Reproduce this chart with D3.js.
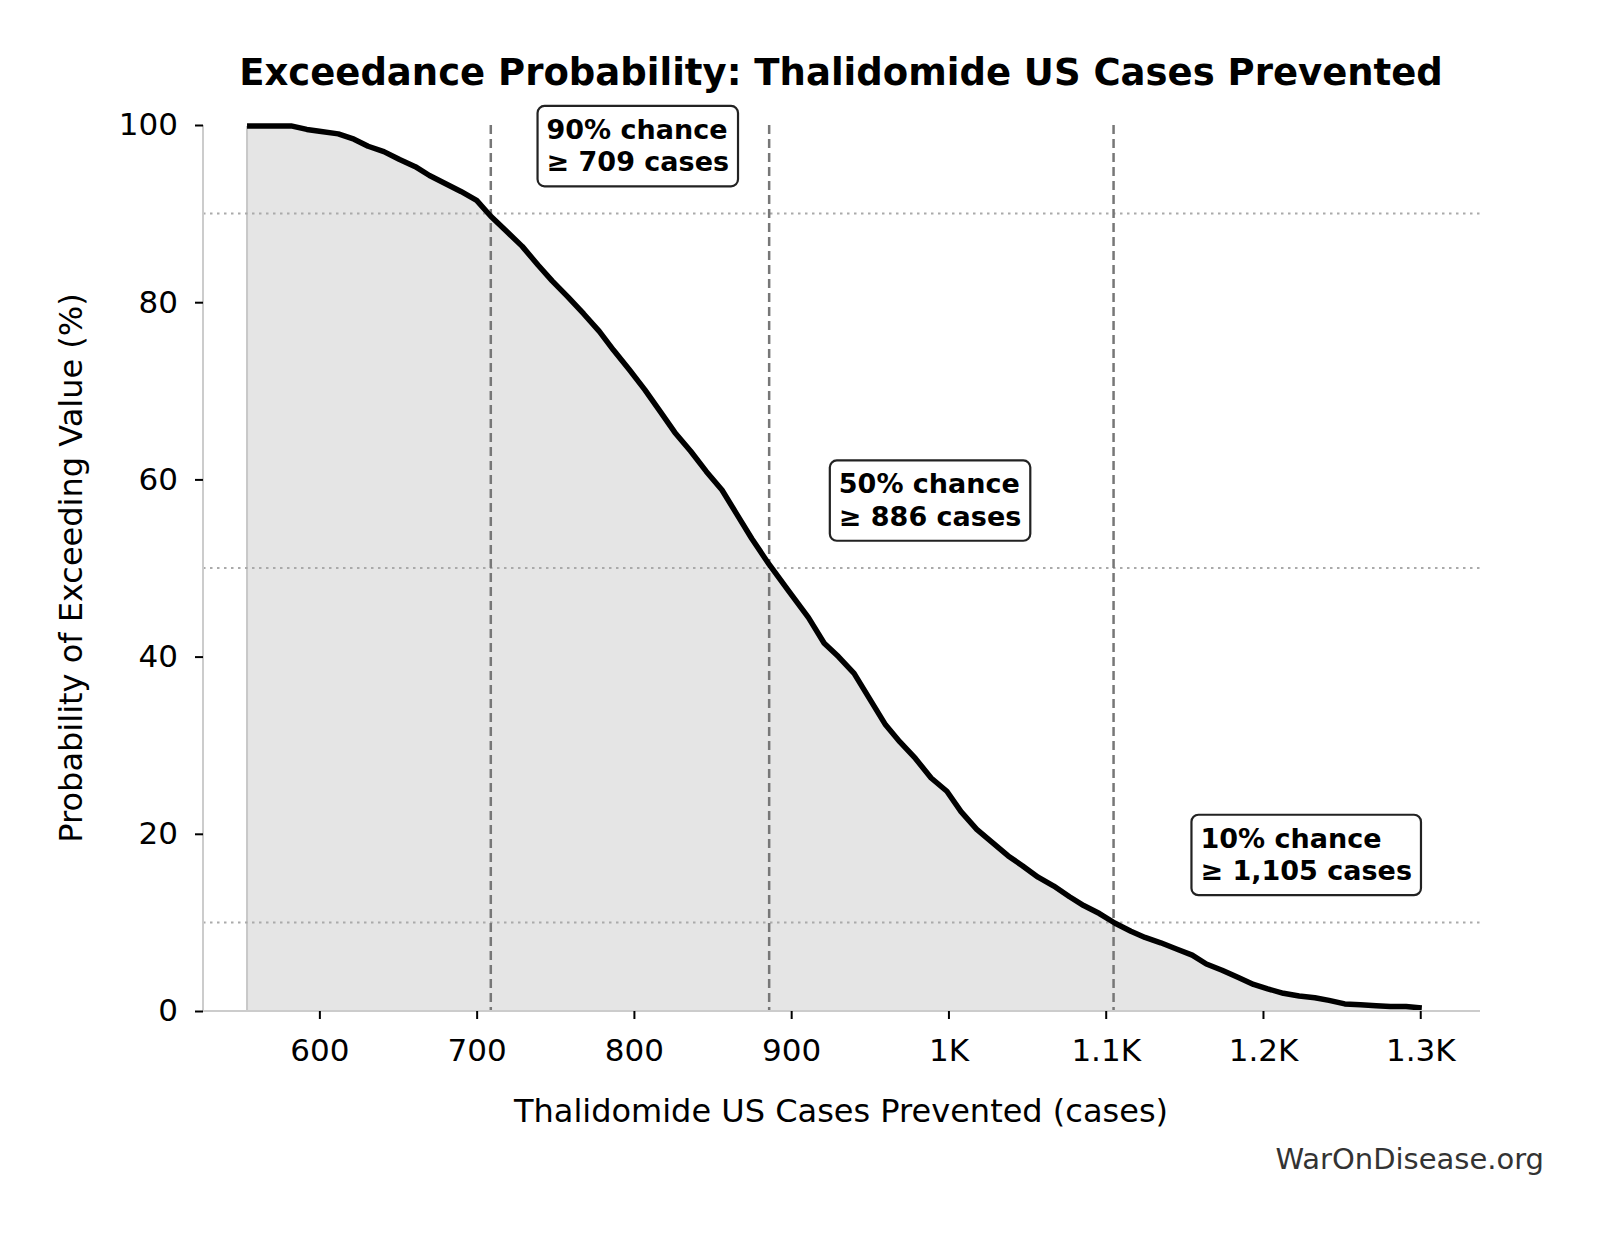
<!DOCTYPE html>
<html>
<head>
<meta charset="utf-8">
<script src="https://cdn.jsdelivr.net/npm/d3@7"></script>
<style>
  body { margin: 0; background: #fff; }
  text { font-family: "DejaVu Sans", sans-serif; }
</style>
</head>
<body>
<script>
// exceedance curve
const cases = [554, 582, 592, 600, 612, 622, 631, 641, 651, 661, 670, 680, 690, 700, 709, 719, 729, 739, 748, 758, 768, 778, 787, 797, 807, 817, 826, 836, 846, 856, 865, 875, 886, 898, 911, 921, 930, 940, 950, 960, 969, 979, 989, 999, 1008, 1018, 1028, 1038, 1047, 1057, 1067, 1077, 1086, 1096, 1106, 1116, 1125, 1135, 1145, 1155, 1164, 1174, 1184, 1194, 1203, 1213, 1223, 1233, 1242, 1252, 1262, 1272, 1281, 1291, 1301];
const exceedPct = [99.9, 99.9, 99.5, 99.3, 99.0, 98.4, 97.6, 97.0, 96.1, 95.3, 94.3, 93.4, 92.5, 91.5, 89.7, 88.0, 86.3, 84.2, 82.4, 80.6, 78.7, 76.7, 74.6, 72.4, 70.1, 67.6, 65.3, 63.2, 60.9, 58.8, 56.2, 53.3, 50.4, 47.5, 44.4, 41.5, 40.0, 38.1, 35.2, 32.3, 30.4, 28.5, 26.3, 24.8, 22.5, 20.5, 19.0, 17.5, 16.4, 15.1, 14.1, 12.9, 11.9, 11.0, 9.9, 9.0, 8.3, 7.7, 7.0, 6.3, 5.3, 4.6, 3.8, 3.0, 2.5, 2.0, 1.7, 1.5, 1.2, 0.8, 0.7, 0.6, 0.5, 0.5, 0.35];

const pctLevels = [90, 50, 10];
const pctValues = [709, 886, 1105];
const pctLabels = ["≥ 709 cases", "≥ 886 cases", "≥ 1,105 cases"];

const xTicks = [600, 700, 800, 900, 1000, 1100, 1200, 1300];
const xTickLabels = ["600", "700", "800", "900", "1K", "1.1K", "1.2K", "1.3K"];
const yTicks = [0, 20, 40, 60, 80, 100];

const W = 1603, H = 1233;
const plotL = 203, plotR = 1480, plotT = 125, plotB = 1011;

const svg = d3.select("body").append("svg")
  .attr("width", W).attr("height", H);

const x = d3.scaleLinear().domain([526, 1338]).range([plotL, plotR]);
const y = d3.scaleLinear().domain([0, 100]).range([plotB, plotT]);

const pts = cases.map((c, i) => [c, exceedPct[i]]);

// shaded area under the curve
svg.append("path")
  .datum(pts)
  .attr("d", d3.area().x(d => x(d[0])).y0(y(0)).y1(d => y(d[1])))
  .attr("fill", "#e5e5e5");
svg.append("line")
  .attr("x1", x(cases[0])).attr("x2", x(cases[0]))
  .attr("y1", y(0)).attr("y2", y(exceedPct[0]))
  .attr("stroke", "#c8c8c8").attr("stroke-width", 2);

// horizontal dotted reference lines
svg.selectAll(".hline").data(pctLevels).enter().append("line")
  .attr("x1", plotL).attr("x2", plotR)
  .attr("y1", d => y(d)).attr("y2", d => y(d))
  .attr("stroke", "#aaa").attr("stroke-width", 2)
  .attr("stroke-dasharray", "2.5,4.5");

// vertical dashed percentile lines
svg.selectAll(".vline").data(pctValues).enter().append("line")
  .attr("x1", d => x(d)).attr("x2", d => x(d))
  .attr("y1", y(100)).attr("y2", y(0))
  .attr("stroke", "#777").attr("stroke-width", 2.5)
  .attr("stroke-dasharray", "9,5");

// curve
svg.append("path")
  .datum(pts)
  .attr("d", d3.line().x(d => x(d[0])).y(d => y(d[1])))
  .attr("fill", "none").attr("stroke", "#000")
  .attr("stroke-width", 5.5).attr("stroke-linejoin", "round");

// axes
const xAxis = svg.append("g").attr("transform", `translate(0,${plotB})`)
  .call(d3.axisBottom(x).tickValues(xTicks).tickFormat((d, i) => xTickLabels[i]).tickSize(8).tickPadding(20));
const yAxis = svg.append("g").attr("transform", `translate(${plotL},0)`)
  .call(d3.axisLeft(y).tickValues(yTicks).tickSize(8).tickPadding(17));
[xAxis, yAxis].forEach(g => {
  g.select(".domain").attr("stroke", "#ccc").attr("stroke-width", 2);
  g.selectAll(".tick line").attr("stroke", "#000").attr("stroke-width", 2);
  g.selectAll(".tick text").attr("font-size", 31).attr("fill", "#000")
    .attr("font-family", "DejaVu Sans");
});
xAxis.select(".domain").attr("d", `M${plotL},0H${plotR}`);
yAxis.select(".domain").attr("d", `M0,${plotT}V${plotB}`);

// annotation boxes
pctLevels.forEach((p, i) => {
  const g = svg.append("g");
  const tx = x(pctValues[i] * 1.05);
  const t = g.append("text")
    .attr("x", tx).attr("y", y(p + 8) + 3)
    .attr("font-size", 27).attr("font-weight", "bold").attr("fill", "#000");
  t.append("tspan").attr("x", tx).attr("dy", "-0.25em").text(p + "% chance");
  t.append("tspan").attr("x", tx).attr("dy", "1.2em").text(pctLabels[i]);
  const bb = t.node().getBBox();
  g.insert("rect", "text")
    .attr("x", bb.x - 9).attr("y", bb.y - 8)
    .attr("width", bb.width + 18).attr("height", bb.height + 17)
    .attr("rx", 7).attr("fill", "#fff")
    .attr("stroke", "#222").attr("stroke-width", 2.2);
});

// titles
svg.append("text").attr("x", 841).attr("y", 85).attr("text-anchor", "middle")
  .attr("font-size", 37).attr("font-weight", "bold")
  .text("Exceedance Probability: Thalidomide US Cases Prevented");
svg.append("text").attr("x", 841).attr("y", 1122).attr("text-anchor", "middle")
  .attr("font-size", 32)
  .text("Thalidomide US Cases Prevented (cases)");
svg.append("text").attr("transform", `translate(82,568) rotate(-90)`)
  .attr("text-anchor", "middle").attr("font-size", 32)
  .text("Probability of Exceeding Value (%)");
svg.append("text").attr("x", 1544).attr("y", 1169).attr("text-anchor", "end")
  .attr("font-size", 29).attr("fill", "#333")
  .text("WarOnDisease.org");
</script>
</body>
</html>
